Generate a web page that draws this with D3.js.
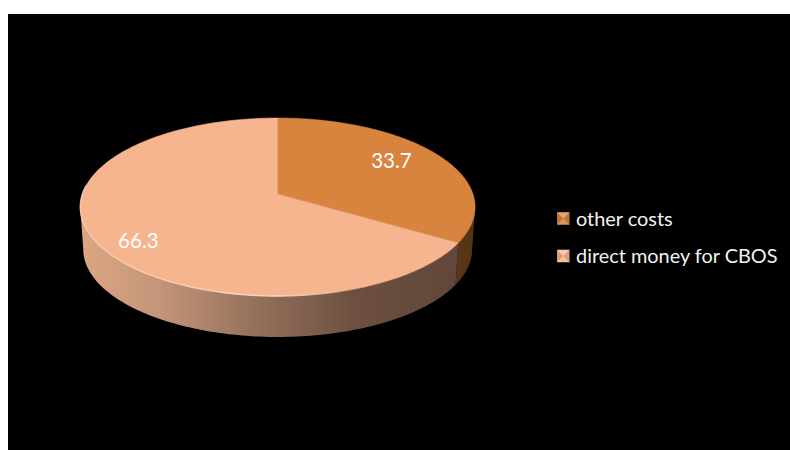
<!DOCTYPE html>
<html>
<head>
<meta charset="utf-8">
<script src="https://cdn.jsdelivr.net/npm/d3@7"></script>
<style>
  html, body { margin: 0; padding: 0; background: #fff; }
  svg { display: block; }
  text { font-family: Lato, "Open Sans", sans-serif; }
</style>
</head>
<body>
<svg id="chart" width="790" height="450"></svg>
<script>
// Cost split shown as a tilted 3D pie
const categories = ["other costs", "direct money for CBOS"];
const values = [33.7, 66.3];
const topColors = ["#D8843E", "#F6B48F"];

const svg = d3.select("#chart");
svg.append("rect").attr("x", 8).attr("y", 14).attr("width", 782).attr("height", 436).attr("fill", "#000");

// Perspective parameters for the disc: nearer points spread further from the hub
const hubX = 277.7, hubY = 194, spanX = 195.3, spanY = 87.1, persp = 0.146;
const wallDrop = 42.5, wallShrink = 0.985;

function project(angle, r, level) {
  const u = Math.sin(angle) * r, v = -Math.cos(angle) * r;
  const w = 1 - persp * v;
  const s = level ? wallShrink : 1;
  return [hubX + spanX * s * u / w, hubY + (level ? wallDrop : 0) + spanY * s * v / w];
}

const arcs = d3.pie().sort(null).startAngle(0).endAngle(2 * Math.PI)(values);
const line = d3.line();
const rimPoints = (a0, a1, level) => d3.range(0, 121).map(i => project(a0 + (a1 - a0) * i / 120, 1, level));

// Horizontal shading on the outer wall
const defs = svg.append("defs");
function wallGradient(id, stops) {
  const g = defs.append("linearGradient").attr("id", id)
    .attr("gradientUnits", "userSpaceOnUse").attr("x1", 80).attr("x2", 476).attr("y1", 0).attr("y2", 0);
  stops.forEach(([o, c]) => g.append("stop").attr("offset", o).attr("stop-color", c));
}
wallGradient("wall-1", [[0, "#DCA683"], [0.2, "#C4957A"], [0.45, "#93705A"], [0.7, "#6C4F40"], [1, "#5F4539"]]);
wallGradient("wall-0", [[0, "#7A4D22"], [0.9, "#603C1C"], [1, "#533315"]]);

const rimGrad = defs.append("linearGradient").attr("id", "rim")
  .attr("gradientUnits", "userSpaceOnUse").attr("x1", 80).attr("x2", 476).attr("y1", 0).attr("y2", 0);
[[0, "#FFDCC4", 0.7], [0.5, "#FFE3CF", 0.85], [0.68, "#FFE3CF", 0.2], [0.8, "#FFE3CF", 0]]
  .forEach(([o, c, a]) => rimGrad.append("stop").attr("offset", o).attr("stop-color", c).attr("stop-opacity", a));

// Visible wall: the rim between the two side tangents of the disc
const tangent = Math.asin(persp);
const frontStart = Math.PI / 2 + tangent, frontEnd = 3 * Math.PI / 2 - tangent;
arcs.forEach((d, i) => {
  const a0 = Math.max(d.startAngle, frontStart), a1 = Math.min(d.endAngle, frontEnd);
  if (a1 <= a0) return;
  const outline = rimPoints(a0, a1, 0).concat(rimPoints(a1, a0, 1));
  svg.append("path").attr("d", line(outline) + "Z").attr("fill", `url(#wall-${i})`);
});

// Top face of each slice
arcs.forEach((d, i) => {
  const outline = [project(0, 0, 0)].concat(rimPoints(d.startAngle, d.endAngle, 0));
  svg.append("path").attr("d", line(outline) + "Z")
    .attr("fill", topColors[i]).attr("stroke", topColors[i]).attr("stroke-width", 0.5);
});

// Bevel highlight along the near edge of the top face
svg.append("path")
  .attr("d", line(rimPoints(arcs[1].startAngle + 0.03, 3 * Math.PI / 2 + 0.1, 0)))
  .attr("fill", "none").attr("stroke", "url(#rim)").attr("stroke-width", 1.4);

// Value labels
const labelOffsets = [[-9, -3], [-2.5, 12]];
arcs.forEach((d, i) => {
  const [x, y] = project((d.startAngle + d.endAngle) / 2, 0.76, 0);
  svg.append("text").attr("x", x + labelOffsets[i][0]).attr("y", y + labelOffsets[i][1])
    .attr("text-anchor", "middle").attr("dominant-baseline", "central")
    .attr("fill", "#fff").attr("font-size", 20.5).text(d.data);
});

// Legend with bevelled square swatches
const legendY = d3.scalePoint().domain(categories).range([218.5, 256]);
const bevel = [[0.28, "#fff"], [0.12, "#000"], [0.14, "#fff"], [0.12, "#000"]];
categories.forEach((name, i) => {
  const y = legendY(name), x = 557, s = 12.5, cx = x + s / 2, t = y - s / 2, b = y + s / 2;
  const corners = [[x, t], [x + s, t], [x + s, b], [x, b]];
  svg.append("rect").attr("x", x).attr("y", t).attr("width", s).attr("height", s).attr("fill", topColors[i]);
  corners.forEach((c, k) => {
    svg.append("path").attr("d", line([c, corners[(k + 1) % 4], [cx, y]]) + "Z")
      .attr("fill", bevel[k][1]).attr("fill-opacity", bevel[k][0]);
  });
  svg.append("text").attr("x", 576).attr("y", y - 1).attr("dominant-baseline", "central")
    .attr("fill", "#f2f2f2").attr("font-size", 19.9).text(name);
});
</script>
</body>
</html>
